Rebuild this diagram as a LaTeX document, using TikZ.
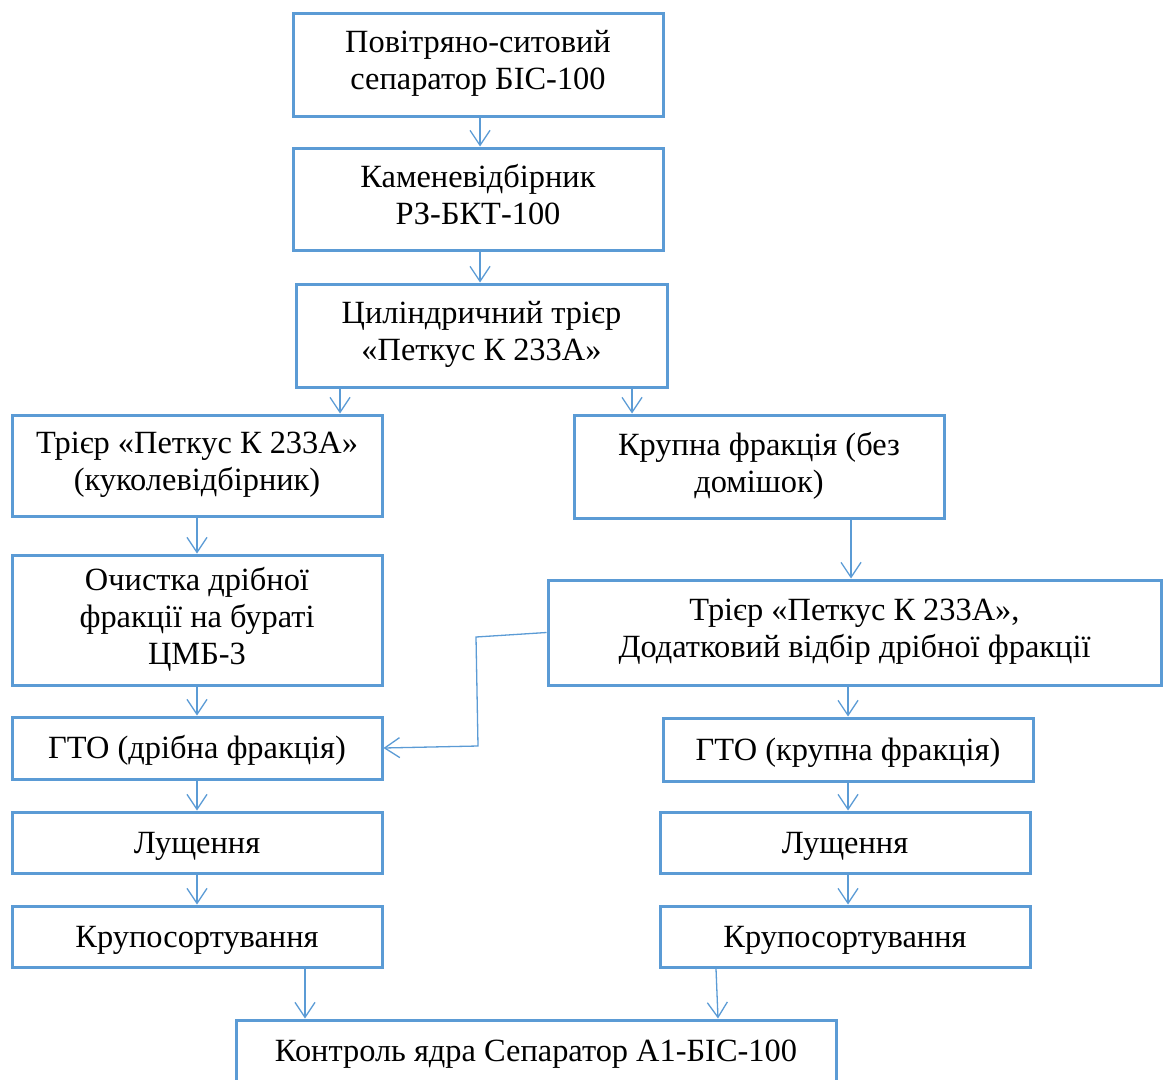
\documentclass[tikz,border=0pt]{standalone}
\usepackage{fontspec}
\setmainfont{Liberation Serif}
\usetikzlibrary{arrows.meta}
\definecolor{bl}{RGB}{91,155,213}
\begin{document}
\begin{tikzpicture}[x=1pt,y=-1pt,
  box/.style={draw=bl,line width=3pt,inner sep=0pt,align=center,
    font=\fontsize{32.4}{37}\selectfont,minimum width=370pt,
    execute at begin node={\rule{0pt}{30pt}},
    execute at end node={\rule[-9pt]{0pt}{0pt}}},
  arr/.style={draw=bl,line width=1.3pt,-{Straight Barb[length=15pt,width=20pt,line width=1.3pt]}}]
\useasboundingbox (0,0) rectangle (1164,1079);
\clip (0,0) rectangle (1164,1079);
\node[box,minimum height=103pt] (b1) at (478,64.5) {Повітряно-ситовий\\сепаратор БІС-100};
\node[box,minimum height=102pt] (b2) at (478,199) {Каменевідбірник\\РЗ-БКТ-100};
\node[box,minimum height=103pt,minimum width=371pt] (b3) at (481.5,335.5) {Циліндричний трієр\\«Петкус К 233А»};
\node[box,minimum height=101pt] (b4) at (197,465.5) {Трієр «Петкус К 233А»\\(куколевідбірник)};
\node[box,minimum height=103pt] (b5) at (759,466.5) {Крупна фракція (без\\домішок)};
\node[box,minimum height=130pt] (b6) at (197,620) {Очистка дрібної\\фракції на бураті\\ЦМБ-3};
\node[box,minimum height=105pt,minimum width=613pt] (b7) at (854.5,632.5) {Трієр «Петкус К 233А»,\\Додатковий відбір дрібної фракції};
\node[box,minimum height=62pt] (b8) at (197,748) {ГТО (дрібна фракція)};
\node[box,minimum height=63pt] (b9) at (848,749.5) {ГТО (крупна фракція)};
\node[box,minimum height=61pt] (b10) at (197,842.5) {Лущення};
\node[box,minimum height=61pt] (b11) at (845,842.5) {Лущення};
\node[box,minimum height=61pt] (b12) at (197,936.5) {Крупосортування};
\node[box,minimum height=61pt] (b13) at (845,936.5) {Крупосортування};
\node[box,minimum height=62pt,minimum width=600pt] (b14) at (536,1051) {Контроль ядра Сепаратор А1-БІС-100};
\draw[arr] ([xshift=2pt]b1.south) -- ([xshift=2pt]b1.south |- b2.north);
\draw[arr] ([xshift=2pt]b2.south) -- ([xshift=2pt]b2.south |- b3.north);
\draw[arr] ([xshift=-141.5pt]b3.south) -- ([xshift=-141.5pt]b3.south |- b4.north);
\draw[arr] ([xshift=150.5pt]b3.south) -- ([xshift=150.5pt]b3.south |- b5.north);
\draw[arr] (b4.south) -- (b6.north);
\draw[arr] ([xshift=92pt]b5.south) -- ([xshift=92pt]b5.south |- b7.north);
\draw[arr] (b7.south -| b9.north) -- (b9.north);
\draw[arr] (b6.south) -- (b8.north);
\draw[arr] (b8.south) -- (b10.north);
\draw[arr] (b10.south) -- (b12.north);
\draw[arr] (b9.south) -- (b9.south |- b11.north);
\draw[arr] ([xshift=3pt]b11.south) -- ([xshift=3pt]b11.south |- b13.north);
\draw[arr] ([xshift=108pt]b12.south) -- ([xshift=108pt]b12.south |- b14.north);
\draw[arr] ([xshift=-129pt]b13.south) -- ([xshift=-127pt]b13.south |- b14.north);
\draw[arr] (b7.west) -- (476,637) -- (478,746) -- (b8.east);
\end{tikzpicture}
\end{document}
